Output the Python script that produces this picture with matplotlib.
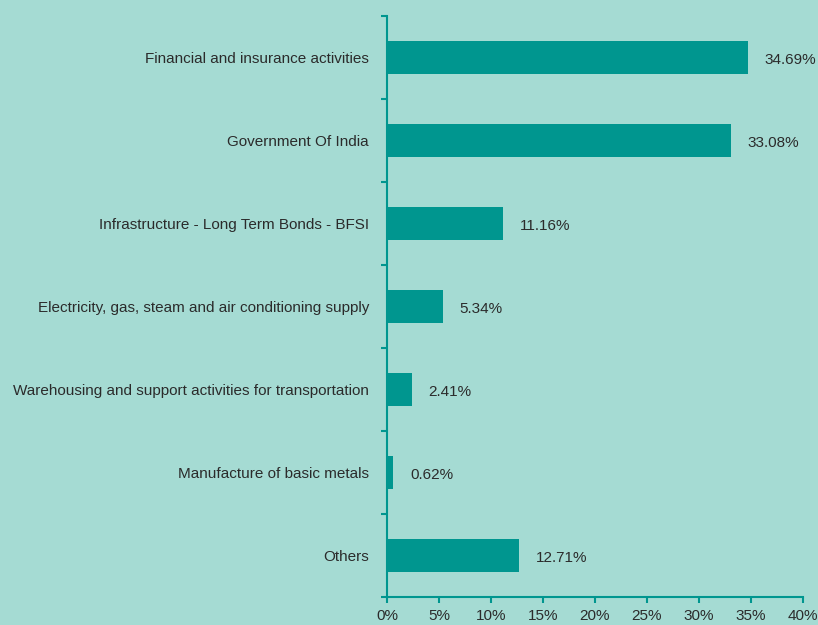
import matplotlib
matplotlib.use("Agg")
import matplotlib.pyplot as plt
import numpy as np

categories = [
    "Financial and insurance activities",
    "Government Of India",
    "Infrastructure - Long Term Bonds - BFSI",
    "Electricity, gas, steam and air conditioning supply",
    "Warehousing and support activities for transportation",
    "Manufacture of basic metals",
    "Others",
]
values = [34.69, 33.08, 11.16, 5.34, 2.41, 0.62, 12.71]
xticks = [0, 5, 10, 15, 20, 25, 30, 35, 40]

bg = "#a5dbd3"
teal = "#00968f"
txt = "#2b2b2b"
plt.rcParams["font.family"] = ["Liberation Sans", "DejaVu Sans"]

fig = plt.figure(figsize=(8.18, 6.25), dpi=100, facecolor=bg)
ax = fig.add_axes([387 / 818, 28 / 625, 416 / 818, 581 / 625])
ax.set_facecolor(bg)

y = np.arange(len(categories))
ax.barh(y, values, height=0.4, color=teal)
for yi, v in zip(y, values):
    ax.annotate(f"{v:.2f}%", (v, yi), xytext=(12, -2), textcoords="offset points",
                va="center", ha="left", fontsize=11, color=txt)

ax.set_xlim(0, 40)
ax.set_ylim(len(categories) - 0.5, -0.5)
ax.set_xticks(xticks)
ax.set_xticklabels([f"{t}%" for t in xticks], fontsize=11, color=txt)
ax.set_yticks(y)
ax.set_yticklabels(categories, fontsize=11, color=txt)
ax.set_yticks(np.arange(len(categories) + 1) - 0.5, minor=True)
ax.tick_params(axis="y", which="major", length=0, pad=13)
ax.tick_params(axis="y", which="minor", length=4, width=1.5, color=teal)
ax.tick_params(axis="x", length=4, width=1.5, color=teal, pad=5)

for s in ["top", "right"]:
    ax.spines[s].set_visible(False)
for s in ["left", "bottom"]:
    ax.spines[s].set_color(teal)
    ax.spines[s].set_linewidth(1.5)

fig.savefig("out.png", dpi=100, facecolor=bg)
